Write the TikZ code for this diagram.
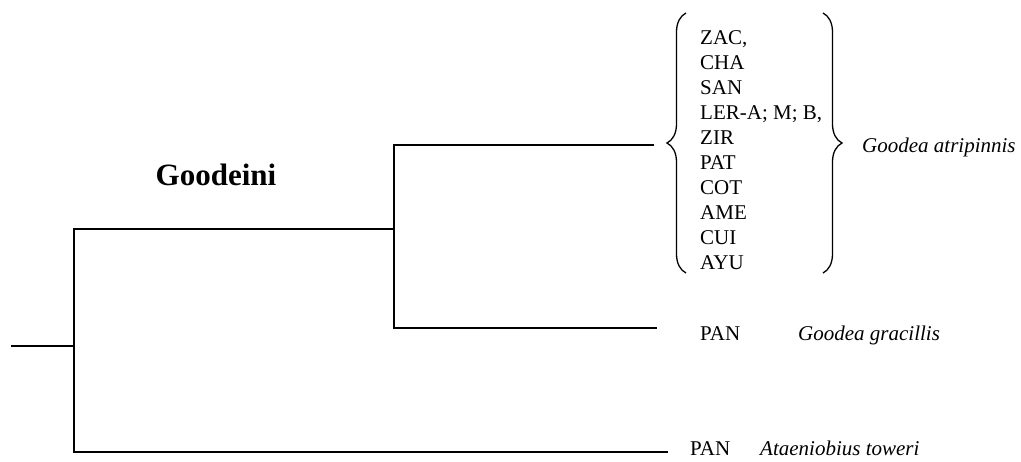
\documentclass[tikz,border=0pt]{standalone}
\usepackage{fontspec}
\setmainfont{Liberation Serif}
\usetikzlibrary{positioning, decorations.pathreplacing}
\tikzset{
	branch/.style={line width=1.6pt, line cap=rect}
}
\tikzset{
	poptext/.style={font=\fontsize{21}{25}\selectfont, inner sep=0pt}
}
\tikzset{
	speciestext/.style={font=\fontsize{21}{25}\selectfont\itshape, inner sep=0pt}
}
\tikzset{
	bracket/.style={line width=1.3pt, decorate, decoration={brace, amplitude=19pt}}
}

\begin{document}
\begin{tikzpicture}[x=1pt, y=-1pt]
			\useasboundingbox (0,0) rectangle (1021,461);

			\begin{scope}
				\coordinate (root) at (12,346);
				\coordinate (nA) at (74,346);
				\coordinate (nB) at (394,229);
				\coordinate (tAtri) at (653,145);
				\coordinate (tGrac) at (656,328);
				\coordinate (tTow) at (667,452);
			\end{scope}

			\begin{scope}
				\draw[branch] (root) -- (nA);
				\draw[branch] (nB) -| (nA) |- (tTow);
				\draw[branch] (tAtri) -| (nB) |- (tGrac);
			\end{scope}

			\begin{scope}
				\coordinate (bLtop) at (686,13);
				\coordinate (bLbot) at (686,273);
				\coordinate (bRtop) at (823,13);
				\coordinate (bRbot) at (823,273);

				\draw[bracket] (bLbot) -- (bLtop);
				\draw[bracket] (bRtop) -- (bRbot);

				\foreach \pop [count=\i from 0] in {{ZAC,}, CHA, SAN, {LER-A; M; B,}, ZIR, PAT, COT, AME, CUI, AYU}
					\node[poptext, anchor=base west] (p\i) at (700,{44+25.1*\i}) {\pop};
			\end{scope}

			\node[font=\fontsize{31}{36}\selectfont\bfseries, inner sep=0pt, anchor=base] (tribe) at (216,185) {Goodeini};

			\node[speciestext, anchor=base west] (atri) at (862,152) {Goodea atripinnis};
			\node[poptext, anchor=base west] (pan1) at (700,340) {PAN};
			\node[speciestext, anchor=base west] (grac) at (798,340) {Goodea gracillis};
			\node[poptext, anchor=base west] (pan2) at (690,455) {PAN};
			\node[speciestext, anchor=base west] (tow) at (760,455) {Ataeniobius toweri};

		\end{tikzpicture}
\end{document}
